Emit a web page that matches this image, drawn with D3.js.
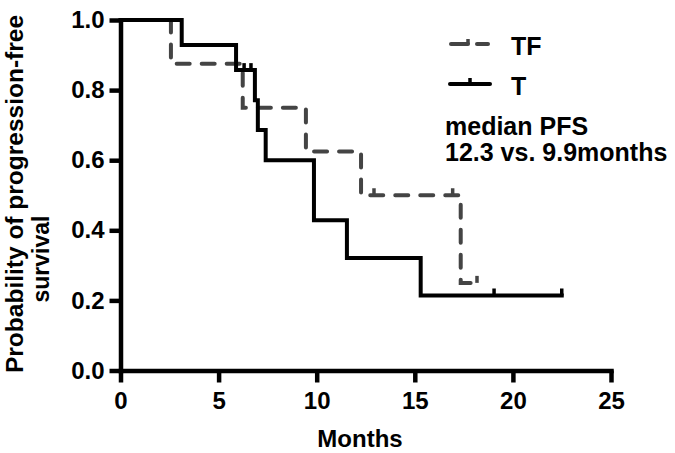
<!DOCTYPE html>
<html><head><meta charset="utf-8">
<script src="https://cdn.jsdelivr.net/npm/d3@7"></script>
<style>
body{margin:0;background:#fff}
text{font-family:"Liberation Sans",Arial,Helvetica,sans-serif;font-weight:bold;fill:#000}
</style>
</head><body><svg id="c" width="675" height="453"></svg>
<script>
// ---- data ----
const xTicks = [0, 5, 10, 15, 20, 25];
const yTicks = [0, 0.2, 0.4, 0.6, 0.8, 1.0];
const seriesNames = ["TF", "T"];
// TF group (dashed grey)
const tfTimes = [0, 2.57, 6.23, 9.45, 12.26, 17.34, 18.17];
const tfSurv  = [1, 0.875, 0.75, 0.625, 0.5, 0.25, 0.25];
const tfCensorTimes = [12.92, 16.93, 18.17];
const tfCensorSurv  = [0.5, 0.5, 0.25];
// T group (solid black)
const tTimes = [0, 3.12, 5.89, 6.85, 7.0, 7.4, 9.86, 11.54, 15.3, 22.49];
const tSurv  = [1, 0.929, 0.857, 0.771, 0.686, 0.6, 0.429, 0.321, 0.214, 0.214];
const tCensorTimes = [6.3, 6.65, 19.04, 22.49];
const tCensorSurv  = [0.857, 0.857, 0.214, 0.214];
const annotation = ["median PFS", "12.3 vs. 9.9months"];
const xTitle = "Months";
const yTitle = ["Probability of progression-free", "survival"];

// ---- drawing ----
const svg = d3.select("#c");
const x = d3.scaleLinear().domain([0, 25]).range([120.5, 611]);
const y = d3.scaleLinear().domain([0, 1]).range([370.5, 20]);
const FS = 24;

const series = [
  {name: seriesNames[0], times: tfTimes, surv: tfSurv, cT: tfCensorTimes, cS: tfCensorSurv, color: "#444", dash: "13,12"},
  {name: seriesNames[1], times: tTimes, surv: tSurv, cT: tCensorTimes, cS: tCensorSurv, color: "#000", dash: null}
];

const line = d3.line().x(d => x(d[0])).y(d => y(d[1])).curve(d3.curveStepAfter);

series.forEach(s => {
  const pts = s.times.map((t, i) => [t, s.surv[i]]);
  svg.append("path").attr("d", line(pts)).attr("fill", "none")
    .attr("stroke", s.color).attr("stroke-width", 4)
    .attr("stroke-linecap", s.dash ? "round" : "square")
    .attr("stroke-linejoin", "miter")
    .attr("stroke-dasharray", s.dash);
  svg.selectAll(null).data(s.cT.map((t, i) => [t, s.cS[i]])).enter().append("line")
    .attr("x1", d => x(d[0])).attr("x2", d => x(d[0]))
    .attr("y1", d => y(d[1])).attr("y2", d => y(d[1]) - 7)
    .attr("stroke", s.color).attr("stroke-width", 3.5);
});

// axes
const gx = svg.append("g").attr("transform", `translate(0,${y(0)})`)
  .call(d3.axisBottom(x).tickValues(xTicks).tickFormat(d3.format("d")).tickSize(12).tickSizeOuter(0).tickPadding(9));
const gy = svg.append("g").attr("transform", `translate(${x(0)},0)`)
  .call(d3.axisLeft(y).tickValues(yTicks).tickFormat(d3.format(".1f")).tickSize(11).tickSizeOuter(0).tickPadding(5));
[gx, gy].forEach(g => {
  g.select(".domain").attr("stroke", "#000").attr("stroke-width", 4.5).attr("stroke-linecap", "square");
  g.selectAll(".tick line").attr("stroke", "#000").attr("stroke-width", 4.5);
  g.selectAll(".tick text").attr("font-size", FS).attr("font-family", null).attr("fill", "#000");
});

// axis titles
svg.append("text").attr("x", 360).attr("y", 447).attr("text-anchor", "middle")
  .attr("font-size", FS).text(xTitle);
svg.append("text").attr("transform", "translate(23,194) rotate(-90)").attr("text-anchor", "middle")
  .attr("font-size", 24.5).text(yTitle[0]);
svg.append("text").attr("transform", "translate(49,259) rotate(-90)").attr("text-anchor", "middle")
  .attr("font-size", 23).text(yTitle[1]);

// legend
const legY = [44, 84];
series.forEach((s, i) => {
  const g = svg.append("g");
  if (s.dash) {
    g.append("line").attr("x1", 451).attr("x2", 468).attr("y1", legY[i]).attr("y2", legY[i])
      .attr("stroke", s.color).attr("stroke-width", 4).attr("stroke-linecap", "round");
    g.append("line").attr("x1", 477).attr("x2", 488).attr("y1", legY[i]).attr("y2", legY[i])
      .attr("stroke", s.color).attr("stroke-width", 4).attr("stroke-linecap", "round");
    g.append("line").attr("x1", 468).attr("x2", 468).attr("y1", legY[i]).attr("y2", legY[i] - 5)
      .attr("stroke", s.color).attr("stroke-width", 3.5);
  } else {
    g.append("line").attr("x1", 450).attr("x2", 490).attr("y1", legY[i]).attr("y2", legY[i])
      .attr("stroke", s.color).attr("stroke-width", 4).attr("stroke-linecap", "round");
    g.append("line").attr("x1", 470).attr("x2", 470).attr("y1", legY[i]).attr("y2", legY[i] - 6)
      .attr("stroke", s.color).attr("stroke-width", 3.5);
  }
  g.append("text").attr("x", 511).attr("y", legY[i] + 11).attr("font-size", 25).text(s.name);
});

annotation.forEach((t, i) => {
  svg.append("text").attr("x", 445).attr("y", 135 + i * 26).attr("font-size", 25).text(t);
});
</script>
</body></html>
